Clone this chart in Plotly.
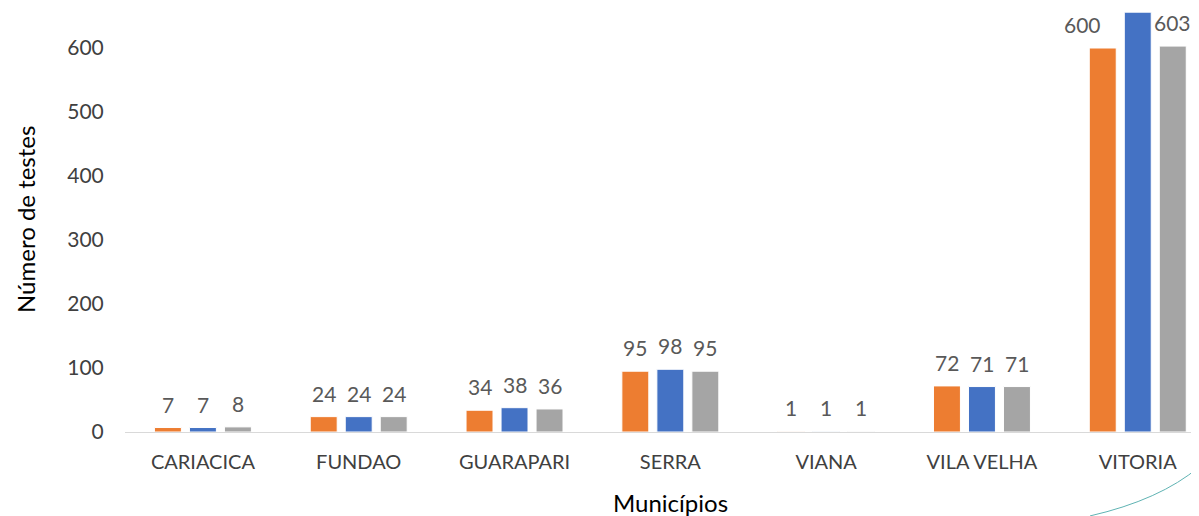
import plotly.graph_objects as go

categories = ["CARIACICA", "FUNDAO", "GUARAPARI", "SERRA", "VIANA", "VILA VELHA", "VITORIA"]
serie_laranja = [7, 24, 34, 95, 1, 72, 600]
serie_azul = [7, 24, 38, 98, 1, 71, 656]
serie_cinza = [8, 24, 36, 95, 1, 71, 603]
y_ticks = [0, 100, 200, 300, 400, 500, 600]

series = [
    ("Série 1", serie_laranja, "#ED7D31"),
    ("Série 2", serie_azul, "#4472C4"),
    ("Série 3", serie_cinza, "#A5A5A5"),
]

FONT = "Lato"
LABEL_COLOR = "#595959"
Y_MAX = 662.5

# small nudge for the label next to the tall VITORIA bar (layout only)
label_nudge = {(0, "VITORIA"): -20}

fig = go.Figure()
for name, vals, color in series:
    fig.add_trace(go.Bar(
        x=categories, y=vals, name=name,
        marker=dict(color=color, line=dict(color="white", width=1)),
    ))

annotations = []
offsets = [-35, 0, 35]
for si, ((name, vals, color), dx) in enumerate(zip(series, offsets)):
    for cat, v in zip(categories, vals):
        if v > Y_MAX - 35:
            continue  # label would fall outside the visible frame (as in the reference)
        annotations.append(dict(
            x=cat, y=v, xref="x", yref="y", text=str(v), showarrow=False,
            xshift=dx + label_nudge.get((si, cat), 0), yshift=9, yanchor="bottom",
            font=dict(family=FONT, size=21, color=LABEL_COLOR),
        ))

annotations.append(dict(
    x=3, y=-0.167, xref="x", yref="paper", text="Municípios", showarrow=False,
    yanchor="middle", font=dict(family=FONT, size=24, color="#000000"),
))
annotations.append(dict(
    x=0, y=0.5, xref="paper", yref="paper", text="Número de testes", showarrow=False,
    xshift=-100, textangle=-90, xanchor="center", yanchor="middle",
    font=dict(family=FONT, size=24, color="#000000"),
))

fig.update_layout(
    width=1191, height=508,
    margin=dict(l=117, r=0, t=0, b=84),
    paper_bgcolor="white", plot_bgcolor="white",
    showlegend=False,
    barmode="group", bargap=0.326, bargroupgap=0.23,
    annotations=annotations,
    shapes=[dict(
        type="path", xref="paper", yref="paper",
        path="M 0.8985,-0.198 Q 0.9637,-0.160 1.0,-0.0825",
        line=dict(color="#5FB3B3", width=1),
    )],
    font=dict(family=FONT),
)
fig.update_xaxes(
    range=[-0.5, 6.393], showgrid=False, showline=True, linecolor="#D9D9D9", linewidth=1,
    ticks="outside", ticklen=12, tickcolor="rgba(0,0,0,0)", automargin=False,
    tickfont=dict(family=FONT, size=20, color="#404040"),
)
fig.update_yaxes(
    range=[0, Y_MAX], tickvals=y_ticks, showgrid=False, zeroline=False, showline=False,
    ticks="outside", ticklen=16, tickcolor="rgba(0,0,0,0)", automargin=False,
    tickfont=dict(family=FONT, size=21, color="#404040"),
)

fig.write_html("out.html")
